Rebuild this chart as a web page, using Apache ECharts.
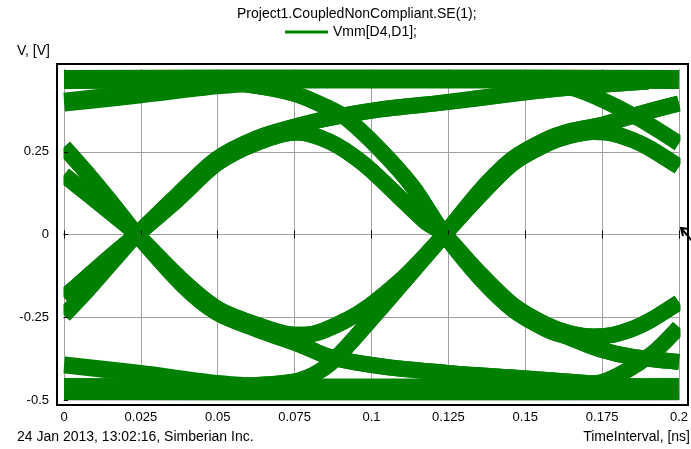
<!DOCTYPE html>
<html>
<head>
<meta charset="utf-8">
<script src="https://cdn.jsdelivr.net/npm/echarts@6/dist/echarts.min.js"></script>
<style>
  html, body { margin: 0; padding: 0; background: #fff; }
  #chart { width: 691px; height: 449px; }
</style>
</head>
<body>
<div id="chart"></div>
<script>
// Axis ticks
const xTickLabels = ['0', '0.025', '0.05', '0.075', '0.1', '0.125', '0.15', '0.175', '0.2'];
const yTickValues = [-0.5, -0.25, 0, 0.25];
const yTickLabels = ['-0.5', '-0.25', '0', '0.25'];

// Eye-diagram trace segments, points are [time (ns), voltage (V)]
const highLevel   = [[0, 0.468], [0.05, 0.470], [0.1, 0.470], [0.15, 0.470], [0.2, 0.468]];
const lowLevel    = [[0, -0.467], [0.05, -0.468], [0.1, -0.468], [0.15, -0.468], [0.2, -0.467]];

// left edge: tails of the previous unit interval
const slowHighIn  = [[0, 0.400], [0.025, 0.425], [0.05, 0.452], [0.075, 0.468]];
const slowLowIn   = [[0, -0.394], [0.025, -0.420], [0.05, -0.450], [0.075, -0.467]];
const fallIn1     = [[0, 0.264], [0.008, 0.180], [0.016, 0.090]];
const fallIn2     = [[0, 0.180], [0.008, 0.120], [0.016, 0.060]];
const riseIn1     = [[0, -0.190], [0.008, -0.125], [0.016, -0.060]];
const riseIn2     = [[0, -0.244], [0.008, -0.165], [0.016, -0.080]];

// first eye: edges out of the 0.0237 ns crossing (upper / lower part of each band)
const rise1Hi     = [[0.0237, 0], [0.037, 0.120], [0.0498, 0.229], [0.063, 0.292]];
const rise1Lo     = [[0.0237, 0], [0.037, 0.106], [0.0498, 0.215], [0.063, 0.278]];
const fall1Hi     = [[0.0237, 0], [0.0387, -0.140], [0.0498, -0.223], [0.0628, -0.273]];
const fall1Lo     = [[0.0237, 0], [0.0387, -0.154], [0.0498, -0.237], [0.0628, -0.287]];
const rise1Stay   = [[0.0758, 0.328], [0.0865, 0.352], [0.103, 0.378], [0.1245, 0.400], [0.146, 0.425], [0.168, 0.447], [0.19, 0.462]];
const rise1Back   = [[0.0758, 0.308], [0.0865, 0.280], [0.0972, 0.215], [0.1083, 0.120], [0.1174, 0.040]];
const highFall1   = [[0.045, 0.463], [0.06, 0.452], [0.075, 0.425], [0.0865, 0.380], [0.092, 0.350], [0.1028, 0.256], [0.1135, 0.143]];
const fall1Stay   = [[0.0767, -0.333], [0.0865, -0.370], [0.103, -0.398], [0.1245, -0.418], [0.146, -0.432], [0.168, -0.447], [0.19, -0.462]];
const fall1Back   = [[0.075, -0.303], [0.081, -0.300], [0.092, -0.258], [0.0995, -0.215], [0.1093, -0.140], [0.1158, -0.080]];
const lowRise1    = [[0.045, -0.463], [0.062, -0.455], [0.0767, -0.440], [0.0865, -0.390], [0.0995, -0.260], [0.1135, -0.110]];

// second eye: edges out of the 0.1237 ns crossing
const rise2Hi     = [[0.1237, 0], [0.1353, 0.132], [0.146, 0.229], [0.157, 0.287], [0.1645, 0.312]];
const rise2Lo     = [[0.1237, 0], [0.1353, 0.118], [0.146, 0.215], [0.157, 0.273], [0.1645, 0.298]];
const fall2Hi     = [[0.1237, 0], [0.1353, -0.118], [0.146, -0.213], [0.157, -0.273], [0.1645, -0.298]];
const fall2Lo     = [[0.1237, 0], [0.1353, -0.132], [0.146, -0.227], [0.157, -0.287], [0.1645, -0.312]];
const rise2Stay   = [[0.1743, 0.330], [0.182, 0.350], [0.19, 0.372], [0.2, 0.396]];
const rise2Back   = [[0.172, 0.310], [0.1785, 0.305], [0.185, 0.285], [0.1906, 0.260], [0.2, 0.205]];
const highFall2   = [[0.145, 0.465], [0.155, 0.460], [0.165, 0.443], [0.1743, 0.410], [0.187, 0.350], [0.2, 0.275]];
const fall2Stay   = [[0.1743, -0.347], [0.185, -0.370], [0.2, -0.385]];
const fall2Back   = [[0.172, -0.308], [0.1785, -0.303], [0.185, -0.285], [0.1906, -0.260], [0.2, -0.205]];
const lowRise2    = [[0.148, -0.463], [0.163, -0.460], [0.1766, -0.440], [0.1906, -0.365], [0.2, -0.280]];

const SERIES_NAME = 'Vmm[D4,D1];';
const GREEN = '#008000';
const FONT = 'Liberation Sans, Arial, sans-serif';

// whole traces through the crossings, built from the segments above
const traces = [
  [fallIn1, fall1Lo, fall1Stay],
  [fallIn2, fall1Lo, fall1Stay],
  [fallIn2, fall1Hi, fall1Back, rise2Lo, rise2Back],
  [fallIn1, fall1Hi, fall1Back, rise2Hi, rise2Stay],
  [riseIn1, rise1Lo, rise1Back, fall2Hi, fall2Back],
  [riseIn1, rise1Lo, rise1Back, fall2Lo, fall2Stay],
  [riseIn2, rise1Hi, rise1Stay],
  [riseIn1, rise1Hi, rise1Stay],
  [highFall1, fall2Lo, fall2Stay],
  [highFall1, fall2Hi, fall2Back],
  [lowRise1, rise2Lo, rise2Back],
  [lowRise1, rise2Hi, rise2Stay]
].map(parts => [].concat(...parts));

// [points, stroke width px]
const bands = [
  [highLevel, 19], [lowLevel, 22],
  [slowHighIn, 19], [slowLowIn, 17],
  [highFall2, 16], [lowRise2, 16]
].concat(traces.map(t => [t, 16]));

const chart = echarts.init(document.getElementById('chart'), null, { renderer: 'canvas' });

const series = bands.map(([data, w]) => ({
  type: 'line',
  name: SERIES_NAME,
  data: data,
  showSymbol: false,
  symbol: 'none',
  smooth: 0.3,
  silent: true,
  clip: false,
  animation: false,
  itemStyle: { color: GREEN },
  lineStyle: { color: GREEN, width: w, cap: 'butt', join: 'round' }
}));

const xLabel = v => xTickLabels[Math.round(v / 0.025)] ?? '';
const yLabel = v => {
  const i = yTickValues.findIndex(t => Math.abs(t - v) < 1e-9);
  return i >= 0 ? yTickLabels[i] : '';
};

chart.setOption({
  backgroundColor: '#fff',
  animation: false,
  title: {
    text: 'Project1.CoupledNonCompliant.SE(1);',
    left: 237,
    top: 7,
    padding: 0,
    textStyle: { fontFamily: FONT, fontSize: 14, fontWeight: 'normal', color: '#000' }
  },
  legend: {
    data: [{ name: SERIES_NAME, icon: 'rect' }],
    left: 285,
    top: 25,
    padding: 0,
    itemWidth: 43,
    itemHeight: 3,
    itemGap: 5,
    selectedMode: false,
    textStyle: { fontFamily: FONT, fontSize: 14, color: '#000' }
  },
  grid: { left: 64, right: 11, top: 69, bottom: 49, containLabel: false },
  xAxis: [
    {
      type: 'value', min: 0, max: 0.2, interval: 0.025, position: 'bottom', offset: 5,
      axisLine: { show: false },
      axisTick: { show: true, length: 4, lineStyle: { color: '#000' } },
      axisLabel: { formatter: xLabel, color: '#000', fontFamily: FONT, fontSize: 13, margin: 6, showMinLabel: true, showMaxLabel: true },
      splitLine: { show: true, lineStyle: { color: '#a0a0a0', width: 1 } }
    },
    {
      type: 'value', min: 0, max: 0.2, interval: 0.025, position: 'bottom', offset: 5, z: 20,
      axisLine: { show: false },
      axisTick: { show: true, inside: true, length: 4, lineStyle: { color: '#000' } },
      axisLabel: { show: false },
      splitLine: { show: false }
    }
  ],
  yAxis: [
    {
      type: 'value', min: -0.5, max: 0.5, interval: 0.25, position: 'left', offset: 7,
      axisLine: { show: false },
      axisTick: { show: true, length: 4, lineStyle: { color: '#000' }, customValues: yTickValues },
      axisLabel: { formatter: yLabel, color: '#000', fontFamily: FONT, fontSize: 13, margin: 8, customValues: yTickValues },
      splitLine: { show: true, lineStyle: { color: '#a0a0a0', width: 1 } }
    },
    {
      type: 'value', min: -0.5, max: 0.5, interval: 0.25, position: 'left', offset: 7, z: 20,
      axisLine: { show: false },
      axisTick: { show: true, inside: true, length: 4, lineStyle: { color: '#000' }, customValues: yTickValues },
      axisLabel: { show: false },
      splitLine: { show: false }
    }
  ],
  graphic: [
    // white margin between plot area and frame
    { type: 'rect', z: 10, silent: true, shape: { x: 58, y: 65, width: 5.5, height: 339 }, style: { fill: '#fff' } },
    { type: 'rect', z: 10, silent: true, shape: { x: 680.5, y: 65, width: 7, height: 339 }, style: { fill: '#fff' } },
    { type: 'rect', z: 10, silent: true, shape: { x: 58, y: 65, width: 629, height: 3.5 }, style: { fill: '#fff' } },
    { type: 'rect', z: 10, silent: true, shape: { x: 58, y: 400.5, width: 629, height: 3.5 }, style: { fill: '#fff' } },
    // frame
    { type: 'rect', z: 30, silent: true, shape: { x: 57, y: 64, width: 631, height: 341 }, style: { fill: null, stroke: '#000', lineWidth: 2 } },
    // marker arrow at the right edge
    { type: 'polyline', z: 31, silent: true, shape: { points: [[681, 228], [692, 241]] }, style: { stroke: '#000', lineWidth: 2, fill: null } },
    { type: 'polyline', z: 31, silent: true, shape: { points: [[689, 229], [681, 228], [683, 236]] }, style: { stroke: '#000', lineWidth: 2, fill: null } },
    // axis titles and footer
    { type: 'text', z: 30, left: 17, top: 44, style: { text: 'V, [V]', fill: '#000', font: '14px ' + FONT } },
    { type: 'text', z: 30, left: 17, top: 430, style: { text: '24 Jan 2013, 13:02:16, Simberian Inc.', fill: '#000', font: '14px ' + FONT } },
    { type: 'text', z: 30, right: 1, top: 430, style: { text: 'TimeInterval, [ns]', fill: '#000', font: '14px ' + FONT } }
  ],
  series: series
});
</script>
</body>
</html>
